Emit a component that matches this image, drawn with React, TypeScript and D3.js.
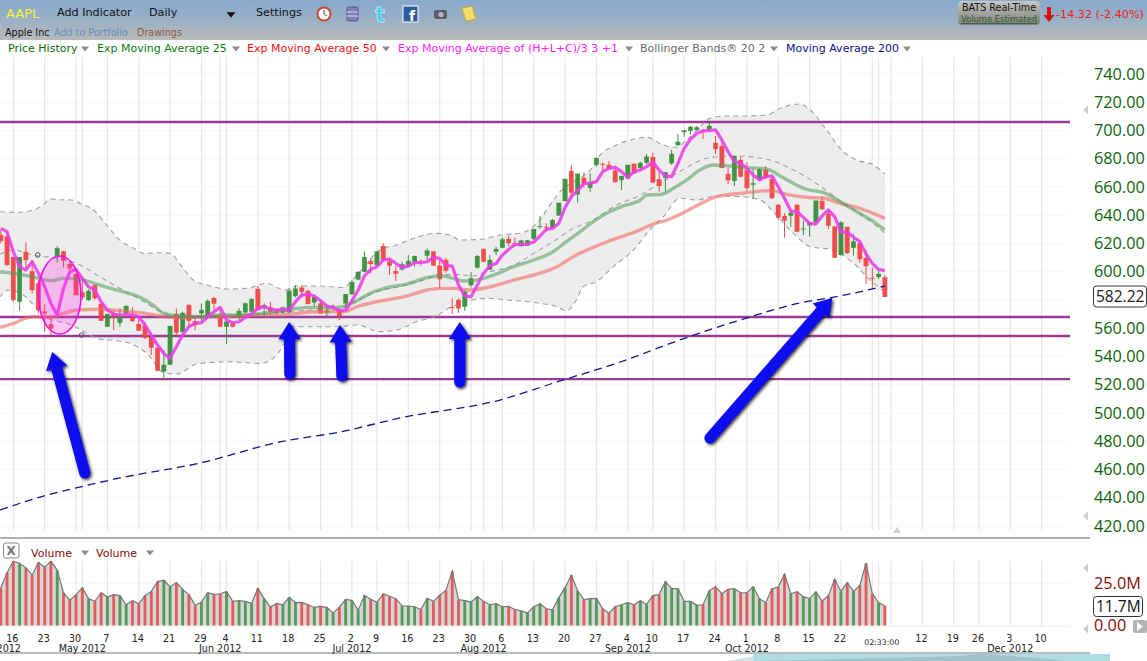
// @ts-nocheck
import React, { useEffect, useRef } from 'react';
import * as d3 from 'd3';

const width = 1147, height = 661;
const uiFont = '"DejaVu Sans", sans-serif';
const axisFont = '"Open Sans", sans-serif';

/* Daily candles */
const dayTone = 'rrrgrrrrrg' + 'rrrrgrrgrg' + 'grrrrrggrg' + 'rrggrrgrgg' + 'grgrrgggrr' + 'grggrggggr' + 'grrrgggrgr' + 'rrrrgggrgg' + 'grrggggrgg' + 'grgrggrrrg' + 'grggrrgggg' + 'ggrgrrrgrr' + 'ggrrrrgrgg' + 'grrrgrgrrrgr';
const candleHigh = [629.5,629.5,610.4,610.4,620.8,608.3,594.1,577.2,568.2,618.2,614.9,607.1,598.9,596.5,587.5,591.3,577.6,570.1,572.9,574.1,576.4,574.8,568.2,564.6,557.1,546.9,544.6,561.6,574.1,571.7,577.2,567.7,577.6,580.5,582.3,575.3,565.1,564.6,574.1,578.1,581.2,589.9,577.6,578.8,573.8,575.3,588.2,590.4,590.6,587.1,582.3,580.0,574.1,576.9,574.1,584.2,594.1,600.5,614.4,609.5,614.4,620.1,609.0,604.0,607.1,611.8,611.4,608.8,616.6,614.4,608.3,609.9,581.2,581.2,587.1,599.8,611.8,616.6,611.8,617.7,624.3,625.3,624.3,622.5,622.5,630.7,639.5,634.3,637.3,648.7,665.7,675.6,669.4,670.2,669.7,681.0,677.5,678.4,673.2,667.8,675.6,676.8,677.9,683.4,684.3,670.9,670.6,686.2,697.5,700.1,703.2,703.2,700.8,705.6,696.1,693.8,673.7,681.9,681.5,677.5,673.2,673.2,674.9,668.5,648.0,641.4,643.7,647.7,636.2,635.2,650.3,653.6,643.7,632.4,635.9,631.9,626.5,622.0,615.4,602.9,601.2,597.7];
const bodyTop = [626.0,624.8,610.4,610.4,614.0,600.3,591.8,571.7,562.8,616.6,614.4,605.5,598.4,585.4,586.4,590.4,577.2,570.1,570.1,568.7,575.7,567.5,563.0,561.6,554.0,546.0,534.0,561.6,570.1,570.8,576.4,564.9,572.9,579.3,581.4,569.1,564.6,563.0,572.2,577.6,580.7,587.8,576.4,574.8,572.2,574.6,586.4,588.0,588.7,586.4,581.9,577.6,572.2,575.0,572.0,584.2,592.7,599.8,610.4,607.6,614.4,618.2,607.1,600.5,605.2,607.6,611.1,607.1,614.9,614.4,604.3,608.3,574.8,580.0,585.9,595.3,611.1,616.1,608.3,616.1,622.9,623.2,620.3,622.0,622.2,630.2,632.2,631.7,636.6,648.7,665.7,671.3,669.4,666.4,663.3,680.5,676.3,675.6,671.6,667.8,675.6,676.3,677.0,681.5,681.2,665.4,670.4,683.4,691.9,700.1,702.5,702.2,699.7,703.2,691.2,689.0,669.2,681.9,679.1,672.0,662.6,672.5,672.0,665.7,647.3,639.5,641.6,647.3,630.5,634.8,650.3,650.1,640.9,631.9,634.8,631.7,621.5,620.1,609.7,595.6,598.4,596.0];
const bodyBottom = [621.8,604.8,580.0,578.8,608.3,587.1,572.9,570.5,559.9,610.7,607.8,602.4,583.5,581.9,580.0,581.4,565.3,561.1,568.2,563.9,570.3,565.1,558.3,553.3,546.2,529.9,529.5,534.2,556.9,557.3,565.3,562.3,570.5,568.7,577.4,561.1,561.1,561.1,567.7,571.2,571.7,572.9,574.8,571.7,571.0,571.2,571.2,582.8,585.9,577.2,578.3,570.5,571.0,574.6,568.7,577.6,584.2,594.6,600.0,605.5,604.8,608.3,604.3,598.6,601.7,604.8,607.1,606.6,611.4,604.3,594.8,600.7,574.3,574.1,575.3,590.6,602.9,607.1,601.7,614.2,617.0,620.3,619.9,618.2,618.4,623.4,631.7,631.2,631.2,639.9,650.1,656.0,654.8,662.6,659.5,675.6,675.8,673.5,663.5,664.9,666.1,669.7,673.5,677.2,663.3,660.7,666.4,676.8,689.7,698.9,699.7,700.4,699.2,700.4,686.9,673.5,664.9,664.3,667.3,659.3,661.7,665.4,666.4,652.2,638.3,636.2,639.7,628.4,630.0,632.9,635.2,644.4,632.6,610.0,611.9,613.3,617.0,609.0,604.1,595.1,596.3,582.2];
const candleLow = [620.1,604.1,578.8,572.4,601.2,584.7,570.5,557.6,555.2,606.4,603.1,598.9,583.3,580.0,579.5,580.0,565.1,560.9,558.7,561.1,570.1,564.6,558.0,552.4,541.0,529.7,522.9,534.0,554.5,557.1,561.6,558.7,563.5,568.2,572.9,560.9,548.8,560.6,565.8,571.0,570.5,572.7,567.7,569.4,568.2,570.1,570.5,581.9,581.9,576.9,575.3,570.1,568.7,572.4,565.8,574.6,583.5,594.1,599.6,598.9,604.5,607.1,597.7,593.4,600.7,603.6,603.6,604.3,608.3,604.1,588.2,599.3,570.1,571.0,572.2,588.9,602.4,606.6,601.2,611.8,616.6,618.2,617.7,617.7,618.2,622.5,630.5,628.4,630.7,639.5,649.9,651.3,648.9,659.8,656.5,674.4,670.9,672.5,663.3,657.9,665.4,669.2,672.0,676.3,663.1,656.7,656.7,675.6,689.0,695.6,697.3,699.9,694.0,699.9,683.4,673.2,662.1,660.7,666.8,657.4,651.5,664.5,665.7,651.5,636.6,624.1,631.9,627.9,626.0,624.8,634.3,643.7,630.3,609.7,611.4,612.6,611.4,606.4,591.3,588.0,594.9,582.2];

/* Exp Moving Average of (H+L+C)/3, one value a day */
const hlcEma = [630.7,628.4,614.2,603.6,601.2,607.1,598.9,589.4,577.6,569.4,588.2,600.0,601.7,595.3,589.4,587.0,578.8,572.9,570.1,569.4,569.4,569.4,568.2,562.3,555.2,548.1,542.2,538.7,546.9,555.2,561.1,563.5,563.9,568.2,571.7,574.8,565.8,563.9,564.6,567.7,570.1,574.1,575.3,573.6,572.9,573.4,572.9,578.8,583.5,584.2,582.8,579.5,575.7,574.8,572.4,572.9,579.5,587.0,597.0,601.7,603.6,608.3,609.0,605.9,603.1,604.0,606.4,606.6,607.1,610.2,609.5,604.3,604.0,590.6,582.8,582.3,590.6,598.9,604.3,605.9,611.8,615.8,619.4,619.4,619.6,621.0,625.3,630.0,630.7,634.3,645.6,653.2,657.4,662.6,662.6,663.8,670.9,673.2,673.9,670.9,666.8,670.9,672.0,674.4,677.5,672.0,667.8,667.3,676.8,687.4,693.8,698.0,699.7,699.9,700.4,693.3,685.0,677.9,676.8,673.2,668.5,665.0,667.3,667.8,660.2,652.0,643.0,642.5,638.5,634.3,633.8,639.5,643.7,639.0,628.1,628.1,624.4,621.3,612.6,606.0,601.7,600.8];

/* Slower lines, sampled along the day index */
const ema25Idx = [-0.1,2,5,8,10,12.6,15.8,19,22.2,24.3,26,28.6,31.8,35,38.2,41.4,44.5,47.2,49.8,52.5,54.6,56.8,58.9,61.6,64.7,68,70,72.2,73.8,75.9,78.6,81.8,85,88.1,90.2,92.4,94.5,96.6,99.3,102,103,105.1,107.3,109.4,111.5,113.6,115.8,119,122.2,124.3,126.4,128.5,131.2,133.9,136.5,139.2,141];
const ema25Vals = [600.0,598.9,596.5,593.7,595.3,594.6,590.6,586.4,581.9,576.4,570.5,568.7,568.2,569.4,569.4,570.5,572.2,574.1,574.8,574.6,575.3,579.5,584.7,588.7,591.3,595.8,597.2,595.3,593.4,594.1,597.7,603.6,608.3,614.2,621.3,628.4,635.5,641.4,646.6,650.8,654.3,654.6,659.1,665.0,672.0,675.6,675.1,673.7,672.7,667.8,662.6,658.4,656.0,649.6,642.5,635.5,629.6];
const ema50Idx = [-0.1,2,5.2,7.9,10,12.1,15.8,19,22.2,25.4,28.6,31.8,35,38.2,41.4,44.5,47.2,49.8,52.5,54.6,56.8,60,64.7,68,70,72.2,74.8,78.6,81.8,85,88.7,91.3,95,97.7,100.9,104.1,106.2,108.9,111.5,114.2,117.9,122.7,125.9,128.5,131.2,133.9,137,141];
const ema50Vals = [560.6,563.5,568.2,567.7,570.5,572.9,573.4,572.4,571.0,568.7,567.5,568.2,568.7,568.7,569.4,569.4,570.5,571.7,571.7,571.7,575.3,578.8,582.8,587.1,588.2,588.2,587.1,589.9,594.1,597.7,603.6,610.7,618.2,622.9,627.7,633.8,636.6,641.8,648.0,653.2,655.5,657.4,654.3,652.7,652.0,648.4,644.9,637.8];
const bandUpperIdx = [-0.1,2.5,5.2,6.8,7.9,9.4,11.3,12.6,14.8,16.9,19,21.2,22.8,25.4,27,28.9,30.7,32.9,36,39.2,42.4,45.3,47.2,50.9,54.6,56.8,60.5,63.1,65.8,69.5,71.7,73.2,76.4,79.6,82.8,86,87.6,89.2,91.8,94,95.6,98.2,100.4,103,105.7,107.8,109.4,111.5,113.1,115.8,119,122.2,124.3,127.5,129.1,131.7,134.1,136.5,139.2,141];
const bandUpperVals = [642.5,642.0,643.7,647.7,651.5,651.0,650.8,648.4,643.7,633.0,622.4,616.6,613.0,613.5,613.0,603.6,594.1,590.6,587.8,588.2,591.8,587.0,589.9,589.9,588.9,597.7,615.4,618.9,623.6,627.2,626.0,622.5,622.9,626.0,627.2,637.0,647.3,656.7,665.0,672.0,682.7,689.7,693.3,695.2,689.7,688.1,693.3,702.7,708.6,710.3,710.3,711.0,715.7,718.8,714.5,700.4,686.2,679.1,675.6,669.2];
const bandMidIdx = [-0.1,2,5.2,8.9,12.1,15.8,19,22,25,27,31,36,41,46,50,54,57,60,64,68,70,73,75,78,82,85,88,91.3,94.5,97.7,102,105.1,108.3,112.6,116.8,122.2,125.9,131.2,134.4,137,141];
const bandMidVals = [612.3,615.4,611.8,609.5,605.9,596.5,588.2,581,573,569,567,568,570,572,573,574,580,586,590,595,598,598,597,600,605,613,621,630.7,636.6,646.0,654.3,662.6,670.9,680.3,682.0,679.6,673.2,659.1,648.4,641.4,627.2];
const bandLowerIdx = [-0.1,1.2,3.6,5.7,6.8,8.9,11.3,13.7,15.8,18.5,20.6,23.3,26,28,31.3,36,41.4,44,45.5,46.7,49.8,53.6,56.8,60.5,63.1,66.3,69.5,71.7,73.3,77.5,80.7,84,86,88.7,90.2,91.8,92.9,95,97.7,100.9,103.5,105.7,108.3,111,114.2,117.9,121.1,123.2,126.4,129.1,132.8,136,139.2,141];
const bandLowerVals = [582.3,587.0,583.5,574.0,568.2,565.1,562.3,556.4,552.3,551.2,549.3,542.2,528.5,527.6,534.7,536.3,535.1,541.0,552.0,561.1,561.1,561.1,562.3,557.6,558.7,564.6,568.7,574.8,577.6,581.2,580.0,578.8,577.6,575.3,572.4,580.0,589.4,593.0,603.6,615.4,629.6,639.0,652.0,650.8,653.6,653.2,650.8,642.5,627.2,617.8,615.4,606.0,591.8,585.9];
const ma200Idx = [-0.1,6.25,12.6,19,31.8,44.5,54,63.7,79.6,89.2,98.8,108.3,117.9,127.5,133.8,141];
const ma200Vals = [431.3,440.5,447.6,454.0,464.6,479.5,486.5,496.5,509.2,522.7,536.1,551.7,565.8,577.9,582.8,589.9];

/* Volume in millions */
const volume = [22.4,31.3,38.1,36.7,34.3,29.8,37.3,34.5,38.1,32.7,19.4,14.9,18.3,22.4,15.9,14.3,19.4,16.9,18.3,17.7,12.3,14.7,12.9,17.7,20.2,26.0,26.8,22.8,25.4,21.4,18.3,11.9,13.9,19.4,18.5,18.8,20.2,14.3,14.7,14.3,13.1,22.0,15.9,10.9,13.1,12.3,16.7,13.5,13.7,12.3,10.7,11.3,10.7,7.5,10.9,15.5,14.9,9.1,17.9,15.5,13.7,18.8,17.3,15.9,11.7,11.5,11.1,9.5,16.1,14.3,17.9,20.8,32.1,15.3,14.7,13.9,17.1,14.3,12.3,12.9,11.1,11.3,9.5,8.7,7.5,11.1,12.9,9.9,9.3,16.5,22.4,29.8,20.6,15.3,15.9,16.1,9.9,7.3,11.3,12.3,13.5,12.3,14.7,12.5,17.7,18.3,26.0,21.8,21.8,14.3,14.3,12.1,12.3,20.6,23.0,18.8,21.4,21.8,19.4,19.4,23.0,15.9,13.5,21.8,22.8,30.4,18.8,20.0,17.1,15.9,20.0,14.5,17.7,27.4,20.2,25.4,20.2,23.8,36.9,18.8,13.5,11.7];

/* Axis labels and drawn levels */
const priceTicks = [420,440,460,480,500,520,540,560,580,600,620,640,660,680,700,720,740];
const hiddenPriceLabel = 580; // sits behind the last price box
const levels = [706,568,554.5,524];
const dayTickIdx = [2,7,12,17,22,27,32,36,41,46,51,56,60,65,70,75,80,85,90,95,100,104,109,114,119,124,129,134,147,152,156,161,166];
const dayTickLabels = ['16','23','30','7','14','21','29','4','11','18','25','2','9','16','23','30','6','13','20','27','4','10','17','24','1','8','15','22','12','19','26','3','10'];
const extraGridIdx = [13,35,77,139,140,142];
const monthIdx = [-0.3,13,35,56,77,100,119,161];
const monthLabels = ['Apr 2012','May 2012','Jun 2012','Jul 2012','Aug 2012','Sep 2012','Oct 2012','Dec 2012'];
const legendNames = ['Price History','Exp Moving Average 25','Exp Moving Average 50','Exp Moving Average of (H+L+C)/3 3 +1','Bollinger Bands® 20 2','Moving Average 200'];
const legendColors = ['#0a6a0a','#0a7d0a','#f01010','#ff20ff','#6a6a6a','#10108c'];
const legendX = [8,97,247,398,640,786];
const legendArrowX = [85,236,386,629,774,907];

/* Hand drawn notes: tail and tip as [day index, price] */
const noteArrows = [
    [[13.4,457.5],[8.2,543.2]],
    [[46.1,527.6],[46,564.4]],
    [[54.4,526.2],[54.1,562.3]],
    [[73.2,521.9],[73.2,564.4]],
    [[113.1,482.3],[132.6,581.4]],
];
const ovalCentre = [9.4,583.5];
const ovalHandles = [[5.9,611.9],[12.9,555.2]];

const x = d3.scaleLinear().domain([0, 166]).range([0.8, 1041.6]);
const y = d3.scaleLinear().domain([420, 740]).range([526, 74]);
const vy = d3.scaleLinear().domain([0, 25]).range([625.5, 583.3]);

const zip = (idx, vals) => idx.map((d, i) => [d, vals[i]]);
const priceLine = (curve) => d3.line().x(d => x(d[0])).y(d => y(d[1])).curve(curve);

function triangle(g, cx, cy, size, fill) {
    g.append('path')
        .attr('d', `M${cx - size},${cy - size * 0.6}L${cx + size},${cy - size * 0.6}L${cx},${cy + size * 0.6}Z`)
        .attr('fill', fill);
}

function drawToolbar(svg) {
    const defs = svg.append('defs');
    const bar = defs.append('linearGradient').attr('id', 'bar').attr('x1', 0).attr('x2', 0).attr('y1', 0).attr('y2', 1);
    bar.append('stop').attr('offset', '0%').attr('stop-color', '#86a9cd');
    bar.append('stop').attr('offset', '45%').attr('stop-color', '#98afc6');
    bar.append('stop').attr('offset', '100%').attr('stop-color', '#b9b9b9');
    const badge = defs.append('linearGradient').attr('id', 'badge').attr('x1', 0).attr('x2', 0).attr('y1', 0).attr('y2', 1);
    badge.append('stop').attr('offset', '0%').attr('stop-color', '#c6c6c2');
    badge.append('stop').attr('offset', '100%').attr('stop-color', '#7d7d7a');
    const g = svg.append('g').style('font-family', uiFont);
    g.append('rect').attr('width', width).attr('height', 40).attr('fill', 'url(#bar)');
    const label = (tx, ty, s, size, fill) => g.append('text').attr('x', tx).attr('y', ty).attr('font-size', size).attr('fill', fill).text(s);
    g.append('text').attr('x', 6).attr('y', 18).attr('font-size', 13).attr('fill', '#f5f53a').text('AAPL');
    label(57, 16, 'Add Indicator', 11.2, '#111');
    label(149, 16, 'Daily', 11.2, '#111');
    triangle(g, 231, 15, 4.5, '#111');
    label(256, 16, 'Settings', 11.2, '#111');
    label(5, 36, 'Apple Inc', 9.6, '#111');
    label(54, 36, 'Add to Portfolio', 9.6, '#5f8fc4');
    label(137, 36, 'Drawings', 9.6, '#8c5a40');

    /* icons */
    g.append('circle').attr('cx', 324).attr('cy', 14).attr('r', 6.5).attr('fill', '#fff').attr('stroke', '#d8402a').attr('stroke-width', 2);
    g.append('path').attr('d', 'M324,10V14L327,16').attr('stroke', '#444').attr('fill', 'none');
    g.append('rect').attr('x', 347).attr('y', 7).attr('width', 11).attr('height', 14).attr('rx', 2).attr('fill', '#7f7fb8').attr('stroke', '#55558a');
    g.append('path').attr('d', 'M347,12H358M347,16H358').attr('stroke', '#d8d8ee');
    g.append('text').attr('x', 375).attr('y', 22).attr('font-size', 21).attr('font-weight', 700).attr('fill', '#3fd0ee').attr('stroke', '#fff').attr('stroke-width', 0.4).text('t');
    g.append('rect').attr('x', 403).attr('y', 6).attr('width', 15).attr('height', 16).attr('fill', '#2f5c9e').attr('stroke', '#fff');
    g.append('text').attr('x', 409).attr('y', 21).attr('font-size', 14).attr('font-weight', 700).attr('fill', '#fff').text('f');
    g.append('rect').attr('x', 434).attr('y', 10).attr('width', 13).attr('height', 9).attr('rx', 2).attr('fill', '#5e5e6c');
    g.append('circle').attr('cx', 441).attr('cy', 14.5).attr('r', 2.6).attr('fill', '#b5b5c8');
    g.append('path').attr('d', 'M462,8L472,6L476,19L466,21Z').attr('fill', '#f4dc6c').attr('stroke', '#c9a93c');

    /* status badge */
    g.append('rect').attr('x', 958).attr('y', 1).attr('width', 82).attr('height', 24).attr('rx', 4).attr('fill', 'url(#badge)');
    g.append('text').attr('x', 999).attr('y', 11).attr('text-anchor', 'middle').attr('font-size', 9.6).attr('fill', '#111').text('BATS Real-Time');
    g.append('text').attr('x', 999).attr('y', 22).attr('text-anchor', 'middle').attr('font-size', 8.4).attr('fill', '#2f5a2f').attr('text-decoration', 'underline').text('Volume Estimated');
    g.append('path').attr('d', 'M1047,7H1051V15H1054.5L1049,22L1043.5,15H1047Z').attr('fill', '#d81010');
    g.append('text').attr('x', 1056).attr('y', 18).attr('font-size', 11.2).attr('fill', '#f01818').text('-14.32 (-2.40%)');

    /* legend row */
    const lg = svg.append('g').style('font-family', uiFont).attr('font-size', 11);
    legendNames.forEach((name, i) => {
        lg.append('text').attr('x', legendX[i]).attr('y', 52).attr('fill', legendColors[i]).text(name);
        triangle(lg, legendArrowX[i], 49, 4, '#8a8a8a');
    });
}

function drawGrid(svg) {
    const grid = svg.append('g');
    const allIdx = [...dayTickIdx, ...extraGridIdx];
    priceTicks.forEach(p => {
        grid.append('line').attr('x1', 0).attr('x2', 1070).attr('y1', y(p)).attr('y2', y(p)).attr('stroke', '#f6f6f6');
    });
    grid.append('line').attr('x1', 0).attr('x2', 1070).attr('y1', vy(25)).attr('y2', vy(25)).attr('stroke', '#f6f6f6');
    grid.append('line').attr('x1', 0).attr('x2', 1070).attr('y1', 626).attr('y2', 626).attr('stroke', '#f0f0f0');
    allIdx.forEach(i => {
        grid.append('line').attr('x1', x(i)).attr('x2', x(i)).attr('y1', 57).attr('y2', 530).attr('stroke', '#e6e6e6').attr('stroke-width', 1.2);
        grid.append('line').attr('x1', x(i)).attr('x2', x(i)).attr('y1', 561).attr('y2', 626).attr('stroke', '#e6e6e6').attr('stroke-width', 1.2);
    });
}

function drawPrice(svg) {
    const smooth = priceLine(d3.curveMonotoneX);
    const upper = zip(bandUpperIdx, bandUpperVals);
    const lower = zip(bandLowerIdx, bandLowerVals).reverse();
    const g = svg.append('g');

    g.append('path')
        .attr('d', smooth(upper) + 'L' + smooth(lower).slice(1) + 'Z')
        .attr('fill', '#ededed');

    levels.forEach(p => {
        g.append('line').attr('x1', 0).attr('x2', 1070).attr('y1', y(p)).attr('y2', y(p))
            .attr('stroke', '#963c96').attr('stroke-width', 2.4);
    });

    [upper, lower, zip(bandMidIdx, bandMidVals)].forEach(d => {
        g.append('path').attr('d', smooth(d)).attr('fill', 'none')
            .attr('stroke', '#a0a0a0').attr('stroke-width', 1.1).attr('stroke-dasharray', '5,4');
    });

    /* candles */
    const candle = g.append('g').selectAll('g').data(candleHigh).join('g')
        .attr('fill', (d, i) => dayTone[i] === 'r' ? '#f04848' : '#3a8f3e')
        .attr('stroke', (d, i) => dayTone[i] === 'r' ? '#f04848' : '#3a8f3e')
        .attr('fill-opacity', 0.95);
    candle.append('line')
        .attr('x1', (d, i) => x(i)).attr('x2', (d, i) => x(i))
        .attr('y1', (d, i) => y(candleHigh[i])).attr('y2', (d, i) => y(candleLow[i]))
        .attr('stroke-width', 1);
    candle.append('rect')
        .attr('x', (d, i) => x(i) - 2.3).attr('width', 4.6)
        .attr('y', (d, i) => y(bodyTop[i]))
        .attr('height', (d, i) => Math.max(0.4, y(bodyBottom[i]) - y(bodyTop[i])))
        .attr('stroke-width', 0.2);

    g.append('path').attr('d', smooth(zip(ema50Idx, ema50Vals))).attr('fill', 'none')
        .attr('stroke', '#ee6a66').attr('stroke-opacity', 0.6).attr('stroke-width', 3.4);
    g.append('path').attr('d', smooth(zip(ema25Idx, ema25Vals))).attr('fill', 'none')
        .attr('stroke', '#4f9a55').attr('stroke-opacity', 0.55).attr('stroke-width', 3.4);
    g.append('path').attr('d', priceLine(d3.curveLinear)(hlcEma.map((v, i) => [i, v]))).attr('fill', 'none')
        .attr('stroke', '#ea3cea').attr('stroke-opacity', 0.88).attr('stroke-width', 3.2).attr('stroke-linejoin', 'round');
    g.append('path').attr('d', smooth(zip(ma200Idx, ma200Vals))).attr('fill', 'none')
        .attr('stroke', '#14148c').attr('stroke-width', 1.3).attr('stroke-dasharray', '8,5');

    /* hand drawn oval and its handles */
    g.append('ellipse').attr('cx', x(ovalCentre[0])).attr('cy', y(ovalCentre[1])).attr('rx', 21.3).attr('ry', 39)
        .attr('fill', '#ff30e0').attr('fill-opacity', 0.27).attr('stroke', '#f010e8').attr('stroke-width', 1.6);
    ovalHandles.forEach(d => {
        g.append('circle').attr('cx', x(d[0])).attr('cy', y(d[1])).attr('r', 2.3)
            .attr('fill', 'none').attr('stroke', '#555').attr('stroke-width', 1);
    });
}

function drawArrows(svg) {
    const defs = svg.select('defs');
    const blur = defs.append('filter').attr('id', 'soft').attr('x', '-30%').attr('y', '-30%').attr('width', '160%').attr('height', '160%');
    blur.append('feDropShadow').attr('dx', 1.5).attr('dy', 1.5).attr('stdDeviation', 1.4).attr('flood-color', '#000').attr('flood-opacity', 0.8);
    const g = svg.append('g').attr('filter', 'url(#soft)');
    noteArrows.forEach(([tail, tip]) => {
        const tx = x(tail[0]), ty = y(tail[1]), hx = x(tip[0]), hy = y(tip[1]);
        const a = Math.atan2(hy - ty, hx - tx);
        const ux = Math.cos(a), uy = Math.sin(a);
        const headLen = 17, headW = 11;
        const bx = hx - ux * headLen, by = hy - uy * headLen;
        g.append('line').attr('x1', tx).attr('y1', ty).attr('x2', bx).attr('y2', by)
            .attr('stroke', '#0808f0').attr('stroke-width', 11).attr('stroke-linecap', 'round');
        g.append('path')
            .attr('d', `M${hx},${hy}L${bx - uy * headW},${by + ux * headW}L${bx + uy * headW},${by - ux * headW}Z`)
            .attr('fill', '#0808f0');
    });
}

function drawVolume(svg) {
    const g = svg.append('g');
    const line = d3.line().x((d, i) => x(i)).y(d => vy(d));
    const area = d3.area().x((d, i) => x(i)).y0(vy(0)).y1(d => vy(d));
    g.append('path').attr('d', area(volume)).attr('fill', '#d6d6d6');
    g.selectAll('rect').data(volume).join('rect')
        .attr('x', (d, i) => x(i) - 1.4).attr('width', 2.8)
        .attr('y', d => vy(d)).attr('height', d => vy(0) - vy(d))
        .attr('fill', (d, i) => dayTone[i] === 'r' ? '#e25c5c' : '#549a58');
    g.append('path').attr('d', line(volume)).attr('fill', 'none').attr('stroke', '#777').attr('stroke-width', 1.2);

    const head = svg.append('g').style('font-family', uiFont);
    head.append('rect').attr('x', 3.5).attr('y', 543).attr('width', 15.5).attr('height', 15).attr('rx', 2).attr('fill', '#fff').attr('stroke', '#888');
    head.append('text').attr('x', 11.2).attr('y', 555).attr('text-anchor', 'middle').attr('font-size', 12).attr('font-weight', 700).attr('fill', '#777').text('X');
    [31, 96].forEach(tx => {
        head.append('text').attr('x', tx).attr('y', 557).attr('font-size', 11).attr('fill', '#8c0a0a').text('Volume');
    });
    triangle(head, 85, 553, 4, '#8a8a8a');
    triangle(head, 150, 553, 4, '#8a8a8a');
}

function drawAxes(svg) {
    const labelled = priceTicks.filter(p => p !== hiddenPriceLabel);
    const right = svg.append('g').attr('transform', 'translate(1094,0)')
        .call(d3.axisRight(y).tickValues(labelled).tickFormat(d3.format('.2f')).tickSize(0).tickPadding(0));
    right.select('.domain').remove();
    right.selectAll('text').attr('font-family', axisFont).attr('font-size', 16.3).attr('fill', '#0a640a');

    const side = svg.append('g').style('font-family', axisFont).attr('font-size', 16.3);
    side.append('rect').attr('x', 1093.5).attr('y', 286).attr('width', 53).attr('height', 21).attr('rx', 3).attr('fill', '#fff').attr('stroke', '#333');
    side.append('text').attr('x', 1096).attr('y', 302).attr('fill', '#222').attr('font-size', 15.5).text('582.22');
    side.append('text').attr('x', 1094).attr('y', 589).attr('fill', '#8c0a0a').text('25.0M');
    side.append('rect').attr('x', 1093.5).attr('y', 596.5).attr('width', 49).attr('height', 20).attr('rx', 3).attr('fill', '#fff').attr('stroke', '#333');
    side.append('text').attr('x', 1096).attr('y', 612).attr('fill', '#111').attr('font-size', 15.5).text('11.7M');
    side.append('text').attr('x', 1094).attr('y', 631).attr('fill', '#8c0a0a').text('0.00');
    side.append('rect').attr('x', 1133).attr('y', 620).attr('width', 14).attr('height', 13).attr('rx', 2).attr('fill', '#b4b4b4');
    side.append('path').attr('d', 'M1137,622L1143,626.5L1137,631Z').attr('fill', '#fff');

    [[1087,110],[1087,516],[1087,568],[1087,629]].forEach(d => {
        side.append('path').attr('d', `M${d[0] - 4},${d[1]}L${d[0] + 1},${d[1] - 4.5}V${d[1] + 4.5}Z`).attr('fill', '#cfcfcf');
    });
    side.append('path').attr('d', 'M893,533L897,527L901,533Z').attr('fill', '#cfcfcf');

    const dates = svg.append('g').style('font-family', uiFont).attr('font-size', 9.6).attr('fill', '#222').attr('text-anchor', 'middle');
    dayTickIdx.forEach((d, i) => {
        dates.append('text').attr('x', x(d) - 1).attr('y', 642).text(dayTickLabels[i]);
    });
    monthIdx.forEach((d, i) => {
        dates.append('text').attr('x', x(d)).attr('y', 652).text(monthLabels[i]);
    });
    dates.append('text').attr('x', 881.7).attr('y', 645).attr('font-size', 7.8).text('02:33:00');
}

function drawFrame(svg) {
    const g = svg.append('g');
    g.append('line').attr('x1', 0).attr('x2', 1090).attr('y1', 538).attr('y2', 538).attr('stroke', '#666').attr('stroke-width', 1.2);
    g.append('line').attr('x1', 0).attr('x2', 1090).attr('y1', 653).attr('y2', 653).attr('stroke', '#777').attr('stroke-width', 1.2);
    g.append('rect').attr('x', 753).attr('y', 654).attr('width', 357).attr('height', 7).attr('fill', '#b0dde4');
    g.append('path').attr('d', 'M726,661L743,658L753,656V661Z').attr('fill', '#d5e3e6');
    g.append('path').attr('d', 'M753,661L800,660L880,658L960,656L984,653.5L1010,656L1040,658L1065,661Z').attr('fill', '#9fc3cb');
}

export default function App() {
    const ref = useRef(null);
    useEffect(() => {
        d3.select(ref.current).selectAll('*').remove();
        const svg = d3.select(ref.current).append('svg')
            .attr('width', width).attr('height', height)
            .style('display', 'block').style('position', 'absolute').style('left', 0).style('top', 0)
            .style('background', '#fff');
        drawToolbar(svg);
        drawGrid(svg);
        drawPrice(svg);
        drawVolume(svg);
        drawFrame(svg);
        drawAxes(svg);
        drawArrows(svg);
    }, []);
    return <div ref={ref} />;
}
